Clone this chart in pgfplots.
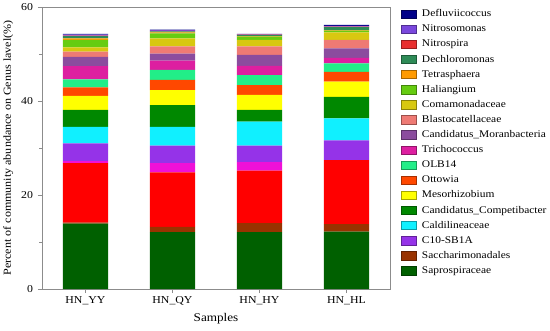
\documentclass[border=0pt]{standalone}
\usepackage{fontspec}
\setmainfont{Liberation Serif}[FakeStretch=1.12]
\usepackage{pgfplots}
\usepackage{pgfplotstable}
\pgfplotsset{compat=1.18}
\definecolor{cSap}{HTML}{006000}
\definecolor{cSac}{HTML}{993300}
\definecolor{cRed}{HTML}{FF0000}
\definecolor{cMag}{HTML}{F010D8}
\definecolor{cC10}{HTML}{9533E8}
\definecolor{cCal}{HTML}{10F0FF}
\definecolor{cCmp}{HTML}{008800}
\definecolor{cMes}{HTML}{FFFF00}
\definecolor{cOtt}{HTML}{FF4800}
\definecolor{cOLB}{HTML}{22EE88}
\definecolor{cTri}{HTML}{DD1FA0}
\definecolor{cMor}{HTML}{8B4C9E}
\definecolor{cBla}{HTML}{EE7A74}
\definecolor{cCoa}{HTML}{D8C810}
\definecolor{cHal}{HTML}{66CC11}
\definecolor{cTet}{HTML}{FF9A00}
\definecolor{cDec}{HTML}{2E8B57}
\definecolor{cNis}{HTML}{E83030}
\definecolor{cNim}{HTML}{7A48DD}
\definecolor{cDef}{HTML}{000088}
\pgfplotstableread{
x Sap Sac Red Mag C10 Cal Cmp Mes Ott OLB Tri Mor Bla Coa Hal Tet Dec Nis Nim Def
0 13.9 0.2 12.7 0.4 3.8 3.5 3.6 3.0 1.8 1.7 2.8 2.0 1.1 0.9 1.6 0.3 0.5 0.1 0.2 0.2
1 12.1 1.1 11.6 2.0 3.7 4.0 4.6 3.2 2.2 2.1 2.0 1.5 1.5 1.7 1.1 0.2 0.2 0.1 0.2 0.1
2 12.1 1.9 11.2 1.8 3.5 5.1 2.5 3.2 2.1 2.1 2.0 2.3 1.8 1.4 0.7 0.1 0.2 0.1 0.1 0.1
3 12.2 1.6 13.6 0.0 4.2 4.7 4.6 3.2 2.1 1.8 1.2 2.0 1.8 1.6 0.4 0.1 0.6 0.1 0.2 0.2
}\datatable
\pgfplotsset{
  seg/.style={fill=#1, draw=none, forget plot},
  lp/.style={fill=#1, draw=#1!65!black, line width=0.8pt,
    legend image code/.code={\draw[##1] (0bp,-4.2bp) rectangle (15bp,4.2bp);}},
}
\begin{document}
\begin{tikzpicture}
\begin{axis}[
  scale only axis, width=348bp, height=282bp,
  ybar stacked, bar width=0.52,
  xmin=-0.5, xmax=3.5, ymin=0, ymax=60,
  xtick={0,1,2,3}, xticklabels={HN\_YY,HN\_QY,HN\_HY,HN\_HL},
  ytick={0,20,40,60}, minor ytick={10,30,50},
  tick align=outside, xtick pos=bottom, ytick pos=left,
  axis line style={black!45}, tick style={black!45},
  major tick length=4bp, minor tick length=2.5bp,
  /pgf/number format/assume math mode=true,
  tick label style={font=\fontsize{10.6}{12}\selectfont},
  yticklabel style={xshift=-1.5bp},
  xlabel style={font=\fontsize{11.8}{13}\selectfont, yshift=-1bp},
  ylabel style={font=\fontsize{10.8}{12}\selectfont, yshift=1bp},
  xlabel={Samples}, ylabel={Percent of community abundance on Genus lavel(\%)},
  legend cell align=left,
  legend style={at={(1,1)}, anchor=north west, xshift=11bp, yshift=-2.5bp,
    draw=none, fill=none, inner sep=0pt, row sep=5.9bp,
    font=\fontsize{10.25}{11}\selectfont,
    nodes={inner sep=0pt, text height=7bp, text depth=2bp},
    /tikz/column sep=5bp},
  after end axis/.code={
    \path (rel axis cs:0,1) ++(-42bp,7bp);
    \path (rel axis cs:1,0) ++(160bp,-42bp);},
]
\addplot[seg=cSap] table[x=x,y=Sap]{\datatable};
\addplot[seg=cSac] table[x=x,y=Sac]{\datatable};
\addplot[seg=cRed] table[x=x,y=Red]{\datatable};
\addplot[seg=cMag] table[x=x,y=Mag]{\datatable};
\addplot[seg=cC10] table[x=x,y=C10]{\datatable};
\addplot[seg=cCal] table[x=x,y=Cal]{\datatable};
\addplot[seg=cCmp] table[x=x,y=Cmp]{\datatable};
\addplot[seg=cMes] table[x=x,y=Mes]{\datatable};
\addplot[seg=cOtt] table[x=x,y=Ott]{\datatable};
\addplot[seg=cOLB] table[x=x,y=OLB]{\datatable};
\addplot[seg=cTri] table[x=x,y=Tri]{\datatable};
\addplot[seg=cMor] table[x=x,y=Mor]{\datatable};
\addplot[seg=cBla] table[x=x,y=Bla]{\datatable};
\addplot[seg=cCoa] table[x=x,y=Coa]{\datatable};
\addplot[seg=cHal] table[x=x,y=Hal]{\datatable};
\addplot[seg=cTet] table[x=x,y=Tet]{\datatable};
\addplot[seg=cDec] table[x=x,y=Dec]{\datatable};
\addplot[seg=cNis] table[x=x,y=Nis]{\datatable};
\addplot[seg=cNim] table[x=x,y=Nim]{\datatable};
\addplot[seg=cDef] table[x=x,y=Def]{\datatable};
\addlegendimage{lp=cDef}\addlegendentry{Defluviicoccus}
\addlegendimage{lp=cNim}\addlegendentry{Nitrosomonas}
\addlegendimage{lp=cNis}\addlegendentry{Nitrospira}
\addlegendimage{lp=cDec}\addlegendentry{Dechloromonas}
\addlegendimage{lp=cTet}\addlegendentry{Tetrasphaera}
\addlegendimage{lp=cHal}\addlegendentry{Haliangium}
\addlegendimage{lp=cCoa}\addlegendentry{Comamonadaceae}
\addlegendimage{lp=cBla}\addlegendentry{Blastocatellaceae}
\addlegendimage{lp=cMor}\addlegendentry{Candidatus\_Moranbacteria}
\addlegendimage{lp=cTri}\addlegendentry{Trichococcus}
\addlegendimage{lp=cOLB}\addlegendentry{OLB14}
\addlegendimage{lp=cOtt}\addlegendentry{Ottowia}
\addlegendimage{lp=cMes}\addlegendentry{Mesorhizobium}
\addlegendimage{lp=cCmp}\addlegendentry{Candidatus\_Competibacter}
\addlegendimage{lp=cCal}\addlegendentry{Caldilineaceae}
\addlegendimage{lp=cC10}\addlegendentry{C10-SB1A}
\addlegendimage{lp=cSac}\addlegendentry{Saccharimonadales}
\addlegendimage{lp=cSap}\addlegendentry{Saprospiraceae}
\end{axis}
\end{tikzpicture}
\end{document}
